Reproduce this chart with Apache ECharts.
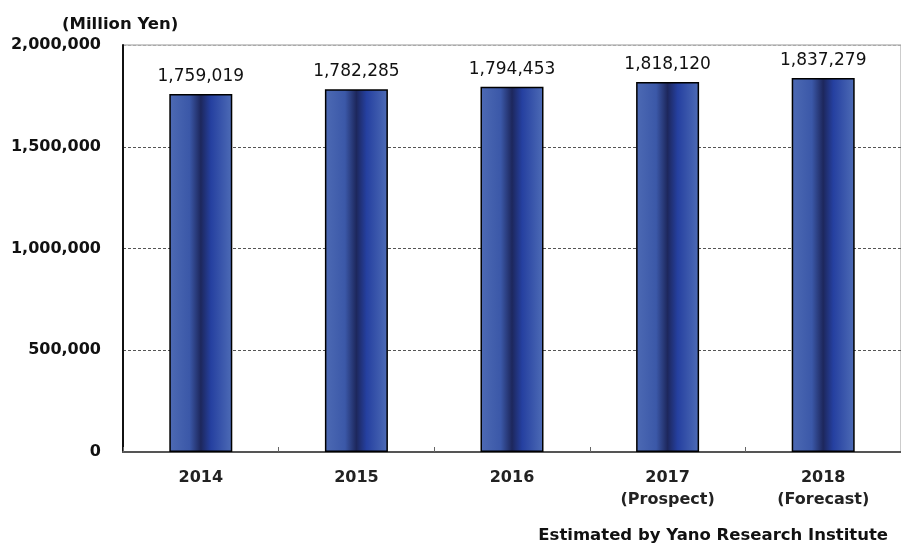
<!DOCTYPE html>
<html><head><meta charset="utf-8">
<script src="https://cdn.jsdelivr.net/npm/echarts@6/dist/echarts.min.js"></script>
<style>html,body{margin:0;padding:0;background:#fff}#c{width:901px;height:550px}</style>
</head><body><div id="c"></div>
<script>
const categories = ['2014', '2015', '2016', '2017\n(Prospect)', '2018\n(Forecast)'];
const values = [1759019, 1782285, 1794453, 1818120, 1837279];
const yTicks = [0, 500000, 1000000, 1500000, 2000000];
const unitLabel = '(Million Yen)';
const sourceNote = 'Estimated by Yano Research Institute';

const FONT = '"DejaVu Sans", Verdana, sans-serif';
const fmt = v => v.toLocaleString('en-US');
const chart = echarts.init(document.getElementById('c'));
chart.setOption({
  animation: false,
  backgroundColor: '#fff',
  grid: { left: 123, right: 0, top: 45, bottom: 98, show: true, borderColor: '#999', borderWidth: 1 },
  xAxis: {
    type: 'category', data: categories,
    axisLine: { lineStyle: { color: '#555', width: 2 } },
    axisTick: { show: true, inside: true, length: 5, lineStyle: { color: '#666' } },
    axisLabel: { color: '#222', fontFamily: FONT, fontWeight: 'bold', fontSize: 16, lineHeight: 22, margin: 15 }
  },
  yAxis: {
    type: 'value', min: yTicks[0], max: yTicks[yTicks.length - 1], interval: yTicks[1] - yTicks[0],
    axisLine: { show: true, lineStyle: { color: '#111', width: 2 } },
    axisTick: { show: false },
    splitLine: { show: true, lineStyle: { type: [3, 2], color: ['#555', '#555', '#555', '#555', '#aaa'], width: 1 } },
    axisLabel: { color: '#111', fontFamily: FONT, fontWeight: 'bold', fontSize: 16, margin: 22, formatter: v => fmt(v) }
  },
  series: [{
    type: 'bar', data: values, barWidth: 63,
    itemStyle: {
      borderColor: '#000', borderWidth: 1.5,
      color: new echarts.graphic.LinearGradient(0, 0, 1, 0, [
        { offset: 0, color: '#4d6ab4' },
        { offset: 0.32, color: '#3b58a8' },
        { offset: 0.5, color: '#1d275c' },
        { offset: 0.66, color: '#2540a0' },
        { offset: 1, color: '#4e6cb6' }
      ])
    },
    label: { show: true, position: 'top', distance: 9, color: '#111', fontFamily: FONT, fontSize: 17, formatter: p => fmt(p.value) }
  }],
  graphic: [
    { type: 'text', left: 62, top: 16, style: { text: unitLabel, fontFamily: FONT, fontWeight: 'bold', fontSize: 16.5, fill: '#111' } },
    { type: 'text', right: 13, top: 527, style: { text: sourceNote, fontFamily: FONT, fontWeight: 'bold', fontSize: 16.5, fill: '#111' } }
  ]
});
</script></body></html>
